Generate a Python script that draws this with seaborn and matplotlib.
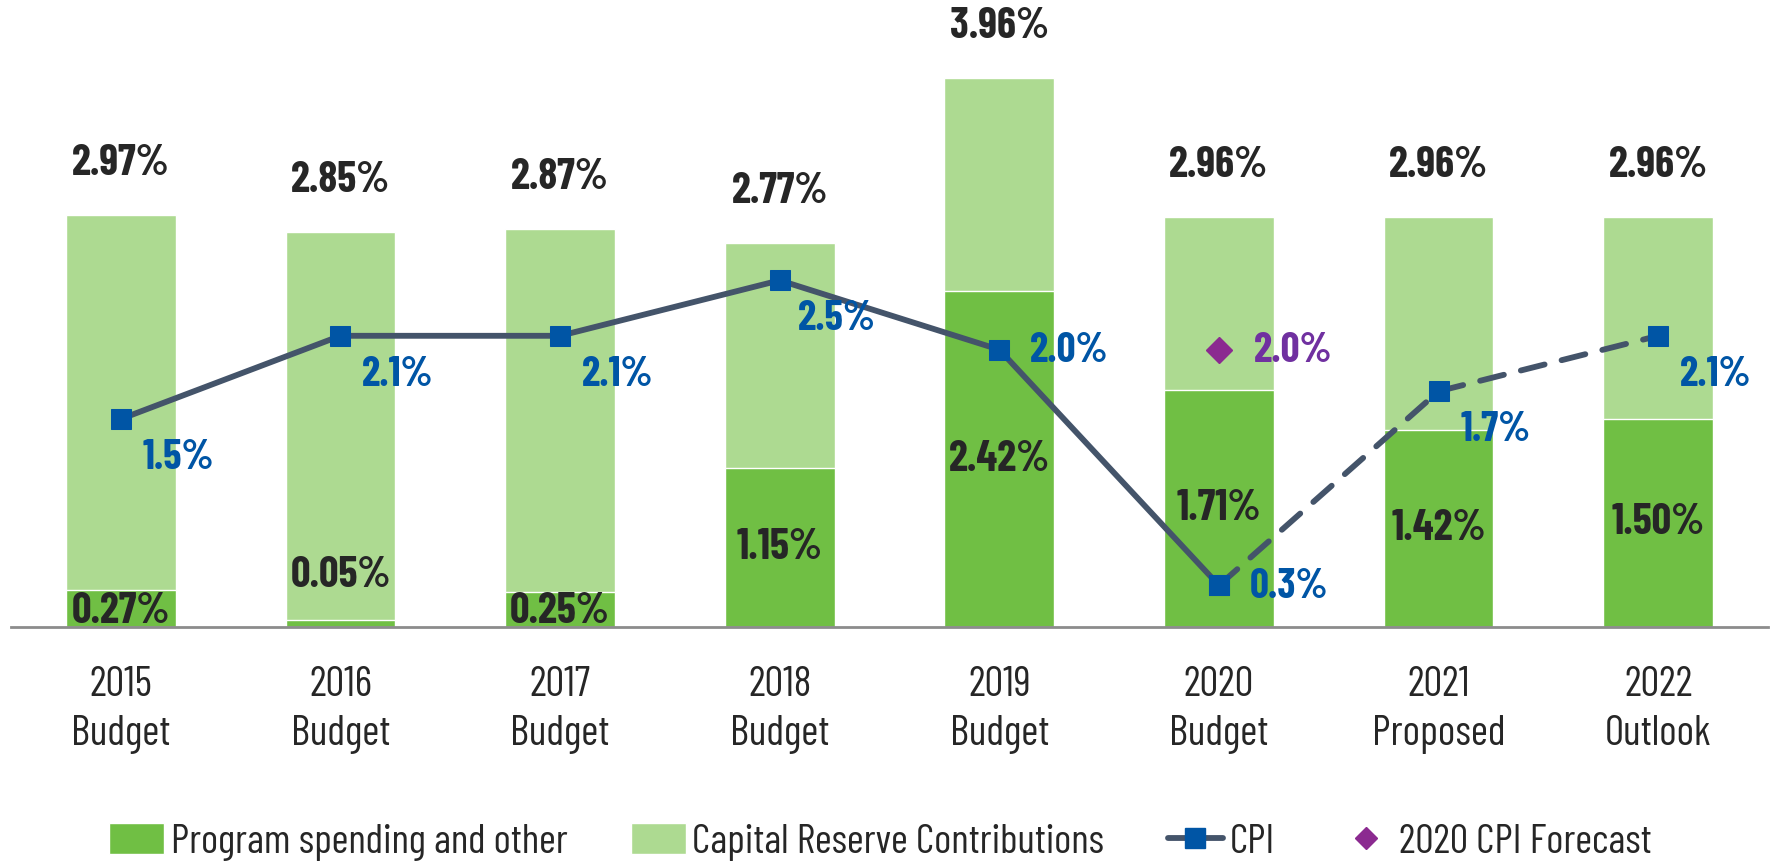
import matplotlib
matplotlib.use("Agg")
import matplotlib.pyplot as plt
from matplotlib.lines import Line2D
from matplotlib.patches import Patch
import seaborn as sns
import pandas as pd

# Chart values
categories = ["2015\nBudget", "2016\nBudget", "2017\nBudget", "2018\nBudget",
              "2019\nBudget", "2020\nBudget", "2021\nProposed", "2022\nOutlook"]
program = [0.27, 0.05, 0.25, 1.15, 2.42, 1.71, 1.42, 1.50]
total = [2.97, 2.85, 2.87, 2.77, 3.96, 2.96, 2.96, 2.96]
cpi = [1.5, 2.1, 2.1, 2.5, 2.0, 0.3, 1.7, 2.1]
forecast_idx = 5
forecast_value = 2.0

dark_green = "#70BF44"
light_green = "#ADDA91"
line_color = "#44546A"
blue = "#0055A5"
purple = "#7030A0"

sns.set_style("white")
plt.rcParams["font.family"] = ["Barlow Condensed", "DejaVu Sans"]

df = pd.DataFrame({"cat": categories, "program": program, "total": total, "cpi": cpi})
df["x"] = range(len(df))

fig = plt.figure(figsize=(17.79, 8.65), dpi=100)
ax = fig.add_axes([11 / 1779, 1 - 627 / 865, 1757 / 1779, 624 / 865])

# stacked bars: total (light) then program (dark) drawn over it
sns.barplot(data=df, x="cat", y="total", color=light_green, width=0.5, saturation=1, ax=ax)
sns.barplot(data=df, x="cat", y="program", color=dark_green, width=0.5, saturation=1, ax=ax)

# CPI line: solid through 2020, dashed after
solid = df.iloc[:forecast_idx + 1]
dashed = df.iloc[forecast_idx:]
sns.lineplot(x=solid["x"], y=solid["cpi"], color=line_color, lw=4.2, ax=ax,
             marker="s", markersize=15, markerfacecolor=blue, markeredgecolor=blue)
sns.lineplot(x=dashed["x"], y=dashed["cpi"], color=line_color, lw=4.2, ax=ax,
             linestyle=(0, (4.2, 3.0)), dash_capstyle="round", marker="s", markersize=15,
             markerfacecolor=blue, markeredgecolor=blue)
ax.plot([forecast_idx], [forecast_value], marker="D", color="#8B2A90",
        markersize=13, linestyle="none")

# labels
for i, (p, t) in enumerate(zip(program, total)):
    ax.text(i, t + 0.37, f"{t:.2f}%", ha="center", va="center",
            fontsize=31, fontweight="bold")
    if p < 0.2:
        y = p + 0.32
    elif p < 0.5:
        y = 0.11
    else:
        y = p / 2
    ax.text(i, y, f"{p:.2f}%", ha="center", va="center",
            fontsize=31, fontweight="bold")

for i, c in enumerate(cpi):
    if i in (4, 5):
        ax.text(i + 0.32, c - 0.01, f"{c:.1f}%", ha="center", va="center",
                fontsize=30, fontweight="bold", color=blue)
    else:
        ax.text(i + 0.26, c - 0.28, f"{c:.1f}%", ha="center", va="center",
                fontsize=30, fontweight="bold", color=blue)
ax.text(forecast_idx + 0.34, forecast_value - 0.01, f"{forecast_value:.1f}%",
        ha="center", va="center", fontsize=30, fontweight="bold", color=purple)

ax.set_xlim(-0.5, len(categories) - 0.5)
ax.set_ylim(0, 4.5)
ax.set_xlabel("")
ax.set_ylabel("")
ax.set_yticks([])
for s in ["top", "left", "right"]:
    ax.spines[s].set_visible(False)
ax.spines["bottom"].set_color("#8C8C8C")
ax.spines["bottom"].set_linewidth(2)
ax.set_xticks(range(len(categories)))
ax.set_xticklabels(categories, fontsize=30, fontweight="normal", linespacing=1.35)
ax.tick_params(axis="x", which="major", length=0, pad=28)
ax.set_xticks([i - 0.5 for i in range(len(categories) + 1)], minor=True)
ax.tick_params(axis="x", which="minor", length=20, width=2, color="#8C8C8C")

handles = [
    Patch(facecolor=dark_green, label="Program spending and other"),
    Patch(facecolor=light_green, label="Capital Reserve Contributions"),
    Line2D([0], [0], color=line_color, lw=4.2, marker="s", markersize=15,
           markerfacecolor=blue, markeredgecolor=blue, label="CPI"),
    Line2D([0], [0], color="#8B2A90", marker="D", markersize=11,
           linestyle="none", label="2020 CPI Forecast"),
]
fig.legend(handles=handles, loc="center", bbox_to_anchor=(0.495, 0.027), ncol=4,
           frameon=False, prop={"size": 29.5, "weight": "normal"}, handlelength=1.35,
           handleheight=0.8, handletextpad=0.15, columnspacing=1.55)

fig.savefig("out.png", dpi=100)
